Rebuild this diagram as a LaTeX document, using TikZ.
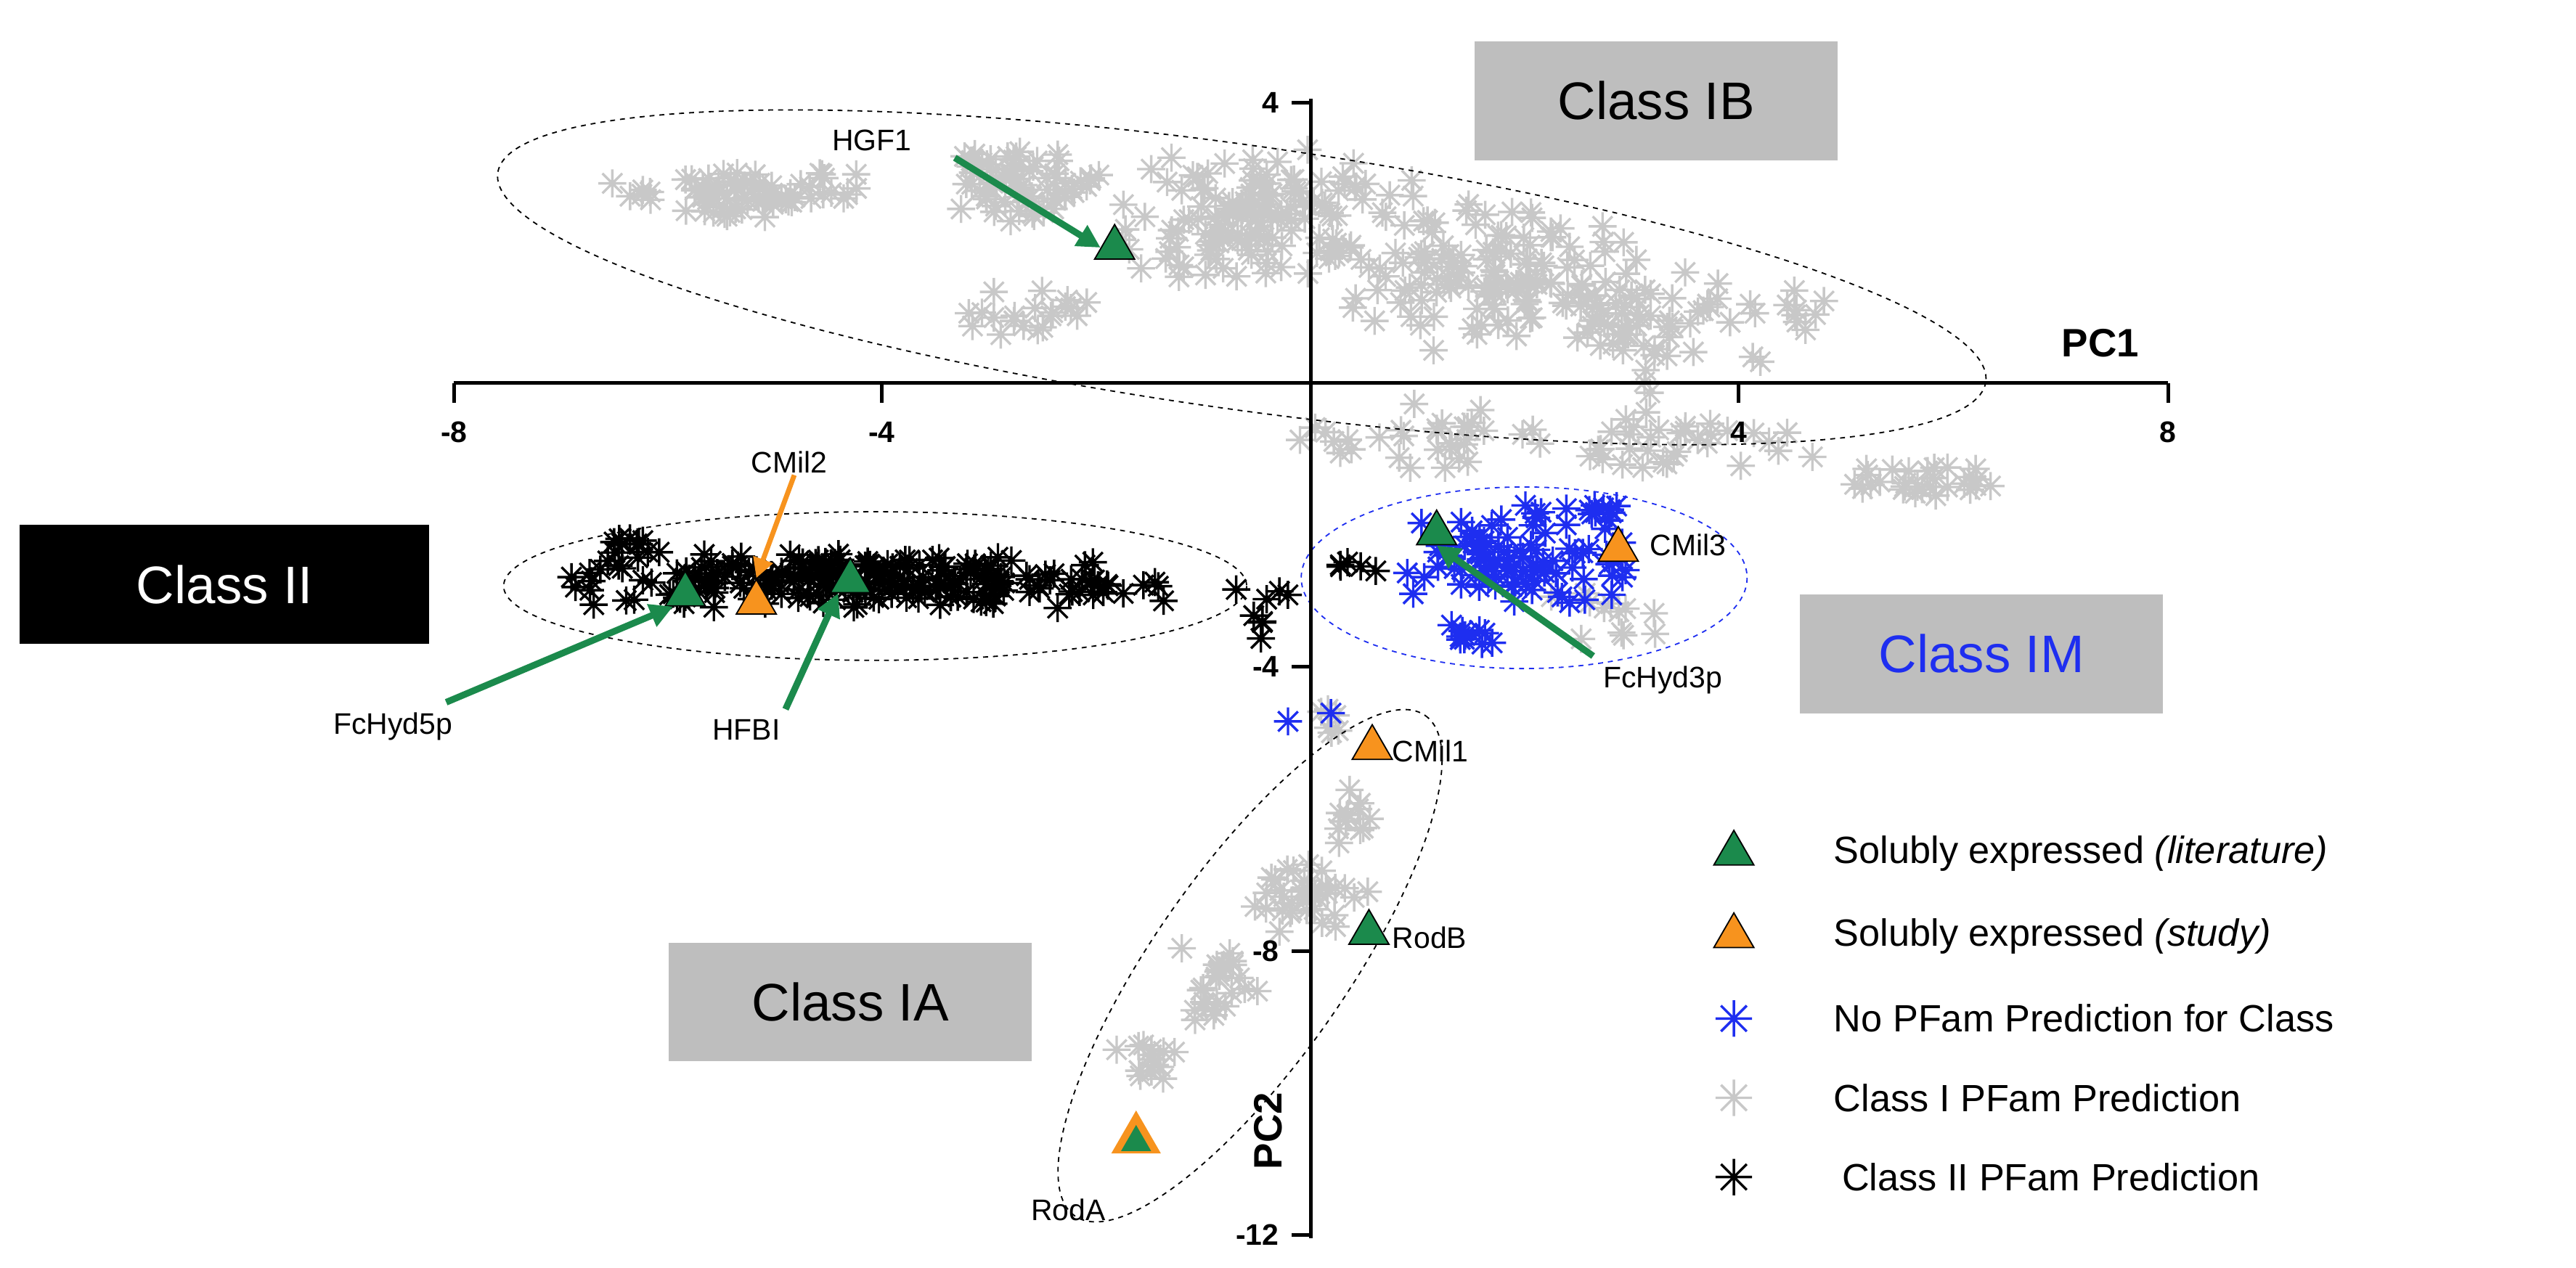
\documentclass[tikz,border=0pt]{standalone}
\usepackage{fontspec}
\setmainfont{Liberation Sans}
\usetikzlibrary{shapes.geometric,arrows.meta}
\definecolor{lg}{HTML}{C8C8C8}
\definecolor{bl}{HTML}{1E2EF0}
\definecolor{gr}{HTML}{1B8A4C}
\definecolor{or}{HTML}{F7931E}
\definecolor{bx}{HTML}{BEBEBE}
\tikzset{
 st/.pic={\draw[line width=1.5pt] (-8.5,0)--(8.5,0) (0,-8.5)--(0,8.5) (-6,-6)--(6,6) (-6,6)--(6,-6);},
 tri/.style={regular polygon,regular polygon sides=3,inner sep=0pt,minimum size=28pt,draw=black,line width=0.8pt},
 ell/.style={dashed,line width=0.8pt},
 garr/.style={-{Triangle[length=14pt,width=14pt]},line width=4pt,gr},
 lab/.style={font=\fontsize{18}{20}\selectfont,inner sep=1pt},
 cbox/.style={fill=bx,minimum width=220pt,minimum height=72pt,font=\fontsize{32}{36}\selectfont},
 tick/.style={font=\bfseries\fontsize{18}{20}\selectfont},
 leg/.style={font=\fontsize{23}{26}\selectfont,anchor=west}
}
\newcommand\scat[6]{\foreach \i in {1,...,#6}{%
 \pgfmathsetmacro\px{#2+(rnd+rnd-1)*#4}%
 \pgfmathsetmacro\py{#3+(rnd+rnd-1)*#5}%
 \pic[#1] at (\px,\py) {st};}}
\begin{document}
\begin{tikzpicture}[x=1pt,y=-1pt]
\useasboundingbox (0,0) rectangle (1560,768);
\pgfmathsetseed{7}
% gray cloud IB
\scat{lg}{450}{118}{85}{15}{70}
\scat{lg}{620}{112}{60}{25}{70}
\scat{lg}{760}{130}{100}{45}{140}
\scat{lg}{900}{165}{100}{50}{130}
\scat{lg}{1000}{200}{70}{40}{50}
\scat{lg}{1080}{190}{30}{20}{10}
\scat{lg}{620}{190}{50}{20}{20}
\scat{lg}{850}{262}{80}{25}{30}
\scat{lg}{1010}{270}{100}{22}{35}
\scat{lg}{1165}{292}{50}{10}{28}
\scat{lg}{975}{370}{40}{20}{12}
% gray IA
\scat{lg}{695}{645}{25}{20}{14}
\scat{lg}{740}{595}{35}{25}{25}
\scat{lg}{795}{540}{40}{30}{35}
\scat{lg}{825}{495}{20}{25}{12}
\scat{lg}{805}{445}{15}{20}{6}
% black
\scat{black}{530}{352}{200}{18}{220}
\scat{black}{385}{330}{20}{8}{10}
\scat{black}{765}{370}{18}{20}{8}
\scat{black}{820}{345}{15}{10}{5}
% blue
\scat{bl}{925}{340}{90}{30}{85}
\scat{bl}{960}{312}{40}{10}{14}
\scat{bl}{890}{385}{20}{10}{10}
\pic[bl] at (780,437) {st};
\pic[bl] at (806,432) {st};
% ellipses
\draw[ell] (752,168) ellipse[x radius=455,y radius=80,rotate=-8];
\draw[ell] (530,355) ellipse[x radius=225,y radius=45];
\draw[ell,bl] (923,350) ellipse[x radius=135,y radius=55];
\draw[ell] (757,585) ellipse[x radius=185,y radius=58,rotate=55];
% axes
\draw[line width=2.2pt] (275,232)--(1313,232);
\foreach \x/\t in {275/-8,534/-4,1053/4,1313/8}{
 \draw[line width=2.2pt] (\x,232)--(\x,244);
 \node[tick] (tx\x) at (\x,262) {\t};}
\draw[line width=2.2pt] (794,60)--(794,750);
\foreach \y/\t in {62/4,404/-4,576/-8,748/-12}{
 \draw[line width=2.2pt] (794,\y)--(782,\y);
 \node[tick,anchor=east] (ty\y) at (778,\y) {\t};}
\node[font=\bfseries\fontsize{24}{26}\selectfont] (pc1) at (1272,208) {PC1};
\node[font=\bfseries\fontsize{24}{26}\selectfont,rotate=90] (pc2) at (768,685) {PC2};
% triangles
\node[tri,fill=gr] (hgf1) at (675,150) {};
\node[tri,fill=gr] (fc5) at (415,360) {};
\node[tri,fill=or] (cm2) at (458,365) {};
\node[tri,fill=gr] (hfbi) at (515,352) {};
\node[tri,fill=gr] (fc3) at (870,323) {};
\node[tri,fill=or] (cm3) at (980,333) {};
\node[tri,fill=or] (cm1) at (831,453) {};
\node[tri,fill=gr] (rodb) at (829,565) {};
\node[tri,fill=or,draw=or,minimum size=33pt] (roda) at (688,690) {};
\node[tri,fill=gr,draw=none,minimum size=21pt] (roda2) at (688,692) {};
% labels
\node[lab] (lhgf) at (528,85) {HGF1};
\node[lab] (lcm2) at (478,280) {CMil2};
\node[lab] (lfc5) at (238,440) {FcHyd5p};
\node[lab] (lhf) at (452,442) {HFBI};
\node[lab,anchor=west] (lcm3) at (998,330) {CMil3};
\node[lab] (lfc3) at (1007,412) {FcHyd3p};
\node[lab,anchor=west] (lcm1) at (842,455) {CMil1};
\node[lab,anchor=west] (lrb) at (842,568) {RodB};
\node[lab] (lra) at (647,733) {RodA};
\draw[garr] (lhgf.south east)++(25,3) coordinate (a1) (a1) -- (hgf1.west);
\draw[garr] (lfc5.north east)++(-5,-5) coordinate (a2) (a2) -- (fc5.south west);
\draw[garr] (lhf.north east)++(2,-5) coordinate (a3) (a3) -- (hfbi.south west);
\draw[garr] (lfc3.north west)++(-5,-5) coordinate (a4) (a4) -- (fc3.south);
\draw[-{Triangle[length=12pt,width=12pt]},line width=3pt,or] (lcm2.south)++(3,0) coordinate (a5) (a5) -- (cm2.north);
% boxes
\node[cbox] (cib) at (1003,61) {Class IB};
\node[cbox,fill=black,text=white,minimum width=248pt] (cii) at (136,354) {Class II};
\node[cbox,text=bl] (cim) at (1200,396) {Class IM};
\node[cbox] (cia) at (515,607) {Class IA};
% legend
\node[tri,fill=gr] (m1) at (1050,517) {};
\node[tri,fill=or] (m2) at (1050,567) {};
\pic[bl,scale=1.3] at (1050,617) {st};
\pic[lg,scale=1.3] at (1050,665) {st};
\pic[black,scale=1.3] at (1050,713) {st};
\node[leg] (t1) at (1107,517) {Solubly expressed \textit{(literature)}};
\node[leg] (t2) at (1107,567) {Solubly expressed \textit{(study)}};
\node[leg] (t3) at (1107,617) {No PFam Prediction for Class};
\node[leg] (t4) at (1107,665) {Class I PFam Prediction};
\node[leg] (t5) at (1112,713) {Class II PFam Prediction};
\end{tikzpicture}
\end{document}
